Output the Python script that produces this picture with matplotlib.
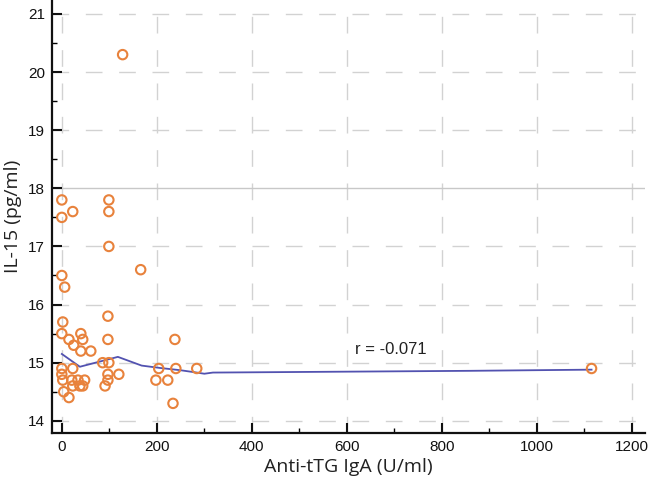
import matplotlib
matplotlib.use("Agg")
import matplotlib.pyplot as plt
from matplotlib.ticker import MultipleLocator

# Scatter data (Anti-tTG IgA, IL-15)
anti_ttg = [0, 23, 0, 99, 99, 99, 128,
            0, 6, 166,
            2, 97, 0, 15, 25, 40, 44, 40, 61, 97, 238,
            86, 99, 0, 23, 0, 97, 120,
            2, 21, 34, 48, 23, 38, 44, 91, 97, 4, 15,
            204, 198, 223, 240, 234, 284, 1115]
il15 = [17.8, 17.6, 17.5, 17.8, 17.6, 17.0, 20.3,
        16.5, 16.3, 16.6,
        15.7, 15.8, 15.5, 15.4, 15.3, 15.5, 15.4, 15.2, 15.2, 15.4, 15.4,
        15.0, 15.0, 14.9, 14.9, 14.8, 14.8, 14.8,
        14.7, 14.7, 14.7, 14.7, 14.6, 14.6, 14.6, 14.6, 14.7, 14.5, 14.4,
        14.9, 14.7, 14.7, 14.9, 14.3, 14.9, 14.9]

# Smoothed (loess) fit line
fit_x = [0, 38, 118, 168, 206, 250, 284, 300, 318, 500, 860, 1115]
fit_y = [15.15, 14.93, 15.10, 14.95, 14.91, 14.87, 14.83, 14.81, 14.83, 14.84, 14.86, 14.88]

x_ticks = [0, 200, 400, 600, 800, 1000, 1200]
y_ticks = [14, 15, 16, 17, 18, 19, 20, 21]

fig = plt.figure(figsize=(6.48, 4.83), dpi=100)
ax = fig.add_axes([0.080, 0.1035, 0.915, 0.8965])

ax.set_xlim(-21, 1227)
ax.set_ylim(13.79, 21.24)

# grid
grid_col = "#d2d2d2"
for xv in x_ticks:
    ax.axvline(xv, color=grid_col, lw=1.0, ls=(0, (12, 12)), zorder=0)
for yv in y_ticks:
    if yv == 18:
        ax.axhline(yv, color="#c8c8c8", lw=1.0, zorder=0)
    else:
        ax.axhline(yv, color=grid_col, lw=1.0, ls=(0, (12, 12)), zorder=0)

ax.plot(fit_x, fit_y, color="#5252b0", lw=1.3, zorder=2)
ax.scatter(anti_ttg, il15, s=46, facecolors="none", edgecolors="#e8823c",
           linewidths=1.5, zorder=3)

ax.text(617, 15.22, "r = -0.071", fontsize=12, family="Liberation Sans",
        color="#222222", va="center")

ax.set_xticks(x_ticks)
ax.set_yticks(y_ticks)
ax.xaxis.set_minor_locator(MultipleLocator(100))
ax.yaxis.set_minor_locator(MultipleLocator(0.5))
ax.tick_params(which="major", direction="in", length=7, width=1.5,
               labelsize=11, colors="#111111", pad=5)
ax.tick_params(which="minor", direction="in", length=3.5, width=1.0)
for lab in ax.get_xticklabels() + ax.get_yticklabels():
    lab.set_family("Liberation Sans")

for s in ["top", "right"]:
    ax.spines[s].set_visible(False)
for s in ["left", "bottom"]:
    ax.spines[s].set_linewidth(1.6)
    ax.spines[s].set_color("#111111")

ax.set_xlabel("Anti-tTG IgA (U/ml)", fontsize=14, family="Open Sans",
              color="#222222", labelpad=3)
ax.set_ylabel("IL-15 (pg/ml)", fontsize=14, family="Open Sans",
              color="#222222", labelpad=4)

fig.savefig("out.png", dpi=100)
